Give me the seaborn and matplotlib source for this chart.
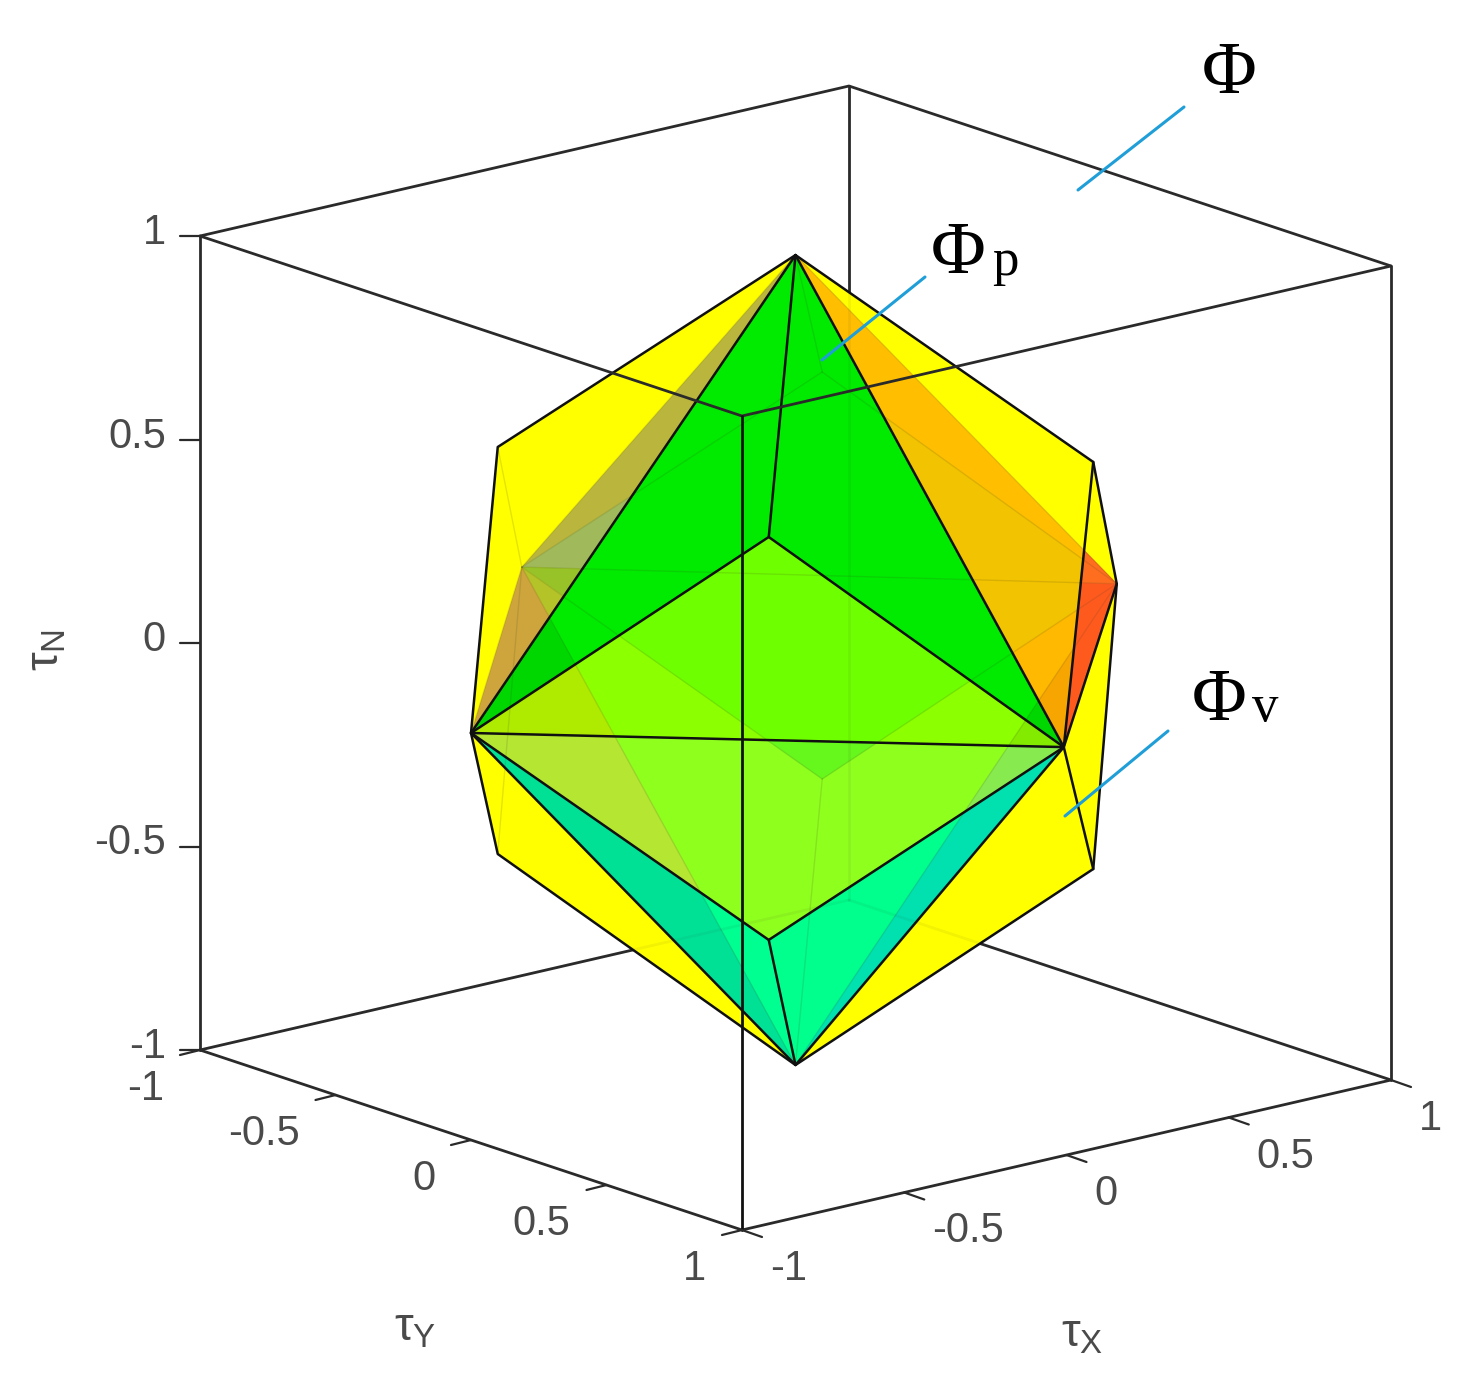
"""
plot.py
-------
Nested polytopes in (tau_X, tau_Y, tau_N) space, orthographic view.
"""

import numpy as np
import matplotlib
matplotlib.use("Agg")
import matplotlib.pyplot as plt
from matplotlib.patches import Polygon
import seaborn as sns

# octahedron corners
TOP = [0, 0, 0.99]
BOTTOM = [0, 0, -1]
LEFT = [-1, 0, 0]
FAR_X = [0.99, 0, 0]
RIGHT = [0, 0.99, 0]
FAR_Y = [0, -1.01, 0]

# inner polytope corners
FRONT_UP = [-0.5, 0.5, 0.5]
FRONT_DN = [-0.5, 0.5, -0.49]
BACK_UP = [0.5, -0.5, 0.5]
BACK_DN = [0.5, -0.5, -0.5]

# outer polytope corners
OUT_PP_UP = [0.5, 0.5, 0.5]
OUT_PP_DN = [0.5, 0.5, -0.5]
OUT_MM_UP = [-0.5, -0.5, 0.5]
OUT_MM_DN = [-0.5, -0.5, -0.5]

# where the outer edge down to RIGHT crosses the TOP - FAR_X edge in this view
SEAM = [0.345, 0.652, 0.345]

TICK_VALUES = [-1, -0.5, 0, 0.5, 1]
TICK_LABELS = ["-1", "-0.5", "0", "0.5", "1"]

# projection of the view, in pixels per unit
CENTER = np.array([795.5, 658.0])
EX = np.array([324.5, -75.0])
EY = np.array([271.0, 90.0])
EN = np.array([0.0, -407.0])

CUBE = "#2a2a2a"
BLUE = "#1f9ed8"
TICK_TEXT = "#4a4a4a"


def proj(p):
    return CENTER + p[0] * EX + p[1] * EY + p[2] * EN


def line(ax, pts, color="black", lw=2.0, alpha=1.0, z=3):
    xy = np.array([proj(p) for p in pts])
    sns.lineplot(x=xy[:, 0], y=xy[:, 1], ax=ax, sort=False, estimator=None, color=color,
                 linewidth=lw, alpha=alpha, zorder=z, legend=False)


def raw_line(ax, x, y):
    sns.lineplot(x=x, y=y, ax=ax, sort=False, estimator=None, color=BLUE,
                 linewidth=2.2, zorder=4, legend=False)


def region(ax, verts, color, clip=None):
    patch = Polygon([proj(v) for v in verts], closed=True, facecolor=color, edgecolor=color,
                    linewidth=0.3, zorder=1)
    ax.add_patch(patch)
    if clip is not None:
        patch.set_clip_path(Polygon([proj(v) for v in clip], closed=True, transform=ax.transData))


sns.set_theme(style="white")
plt.rcParams["font.family"] = ["Liberation Sans", "DejaVu Sans"]
plt.rcParams["mathtext.fontset"] = "custom"
plt.rcParams["mathtext.rm"] = "Liberation Sans"
plt.rcParams["mathtext.it"] = "Liberation Sans"

fig = plt.figure(figsize=(14.66, 13.91), dpi=100)
ax = fig.add_axes([0, 0, 1, 1])
ax.set_xlim(0, 1466)
ax.set_ylim(1391, 0)
ax.axis("off")

# box behind the solids
back_edges = [
    ([1, -1, 1], [1, -1, -1]),
    ([-1, -1, -1], [1, -1, -1]),
    ([1, 1, -1], [1, -1, -1]),
]
for a, b in back_edges:
    line(ax, [a, b], color=CUBE, z=0.5)
    line(ax, [a, b], color=CUBE, alpha=0.06, z=2)
line(ax, [[-1, -1, 1], [1, -1, 1], [1, 1, 1]], color=CUBE)

# outer solid
region(ax, [TOP, OUT_PP_UP, FAR_X, OUT_PP_DN, BOTTOM, OUT_MM_DN, LEFT, OUT_MM_UP], "#ffff00")

# see-through wedge on the left
tri_left = [TOP, FAR_Y, LEFT]
region(ax, [FAR_Y, TOP, BACK_UP], "#bab53c", tri_left)
region(ax, [FAR_Y, BACK_UP, FAR_X], "#a0b95a", tri_left)
region(ax, [FAR_Y, FAR_X, BACK_DN], "#98c328", tri_left)
region(ax, [FAR_Y, BACK_DN, BOTTOM], "#b4c428", tri_left)
region(ax, [FAR_Y, BOTTOM, LEFT], "#cda53c", tri_left)

# see-through wedge on the right, split by the outer edge
tri_right = [TOP, SEAM, RIGHT]
tri_red = [SEAM, FAR_X, RIGHT]
region(ax, tri_right, "#ffbe00")
region(ax, [FAR_X, BACK_UP, FAR_Y], "#f2c300", tri_right)
region(ax, [FAR_X, FAR_Y, BACK_DN], "#f2c300", tri_right)
region(ax, [FAR_X, BACK_DN, BOTTOM], "#ffb900", tri_right)
region(ax, [FAR_X, BOTTOM, RIGHT], "#f7a500", tri_right)
region(ax, tri_red, "#ff5a1e")
region(ax, [OUT_PP_UP, FAR_X, FAR_Y], "#ff6e1e", tri_red)

# inner solid, upper faces
face_a = [TOP, LEFT, FRONT_UP]
face_b = [TOP, FRONT_UP, RIGHT]
region(ax, face_a, "#00eb00")
region(ax, face_b, "#00eb00")
region(ax, [FAR_Y, BOTTOM, LEFT], "#00d700", face_a)
region(ax, [FAR_X, BOTTOM, RIGHT], "#00d700", face_b)

# inner solid, front rhombus
rh_up = [LEFT, FRONT_UP, RIGHT]
rh_dn = [LEFT, RIGHT, FRONT_DN]
region(ax, rh_up, "#8cff00")
region(ax, [FAR_Y, BACK_DN, FAR_X, TOP], "#6eff00", rh_up)
region(ax, [FAR_Y, BOTTOM, LEFT], "#afeb00", rh_up)
region(ax, [FAR_X, BOTTOM, RIGHT], "#82eb00", rh_up)
region(ax, rh_dn, "#8fff1e")
region(ax, [FAR_Y, BACK_DN, FAR_X, TOP], "#66f71c", rh_dn)
region(ax, [FAR_Y, BOTTOM, LEFT], "#b4e632", rh_dn)
region(ax, [FAR_X, BOTTOM, RIGHT], "#87eb50", rh_dn)

# inner solid, lower faces
face_c = [LEFT, FRONT_DN, BOTTOM]
face_d = [RIGHT, FRONT_DN, BOTTOM]
region(ax, face_c, "#00ff91")
region(ax, [FAR_Y, BOTTOM, LEFT], "#00e196", face_c)
region(ax, face_d, "#00ff8c")
region(ax, [FAR_X, BOTTOM, RIGHT], "#00e1af", face_d)

# edges seen through the faces
faint_edges = [
    (FAR_Y, TOP), (FAR_Y, BACK_UP), (FAR_Y, FAR_X), (FAR_Y, BACK_DN), (FAR_Y, BOTTOM),
    (FAR_Y, LEFT), (FAR_Y, OUT_MM_UP), (FAR_Y, OUT_MM_DN),
    (FAR_X, TOP), (FAR_X, BACK_UP), (FAR_X, BACK_DN), (FAR_X, BOTTOM),
    (BACK_UP, TOP), (BACK_DN, BOTTOM),
]
for a, b in faint_edges:
    line(ax, [a, b], color="#404020", lw=1.0, alpha=0.14, z=2)

# edges in front
black_edges = [
    [TOP, OUT_PP_UP, FAR_X, OUT_PP_DN, BOTTOM, OUT_MM_DN, LEFT, OUT_MM_UP, TOP],
    [OUT_PP_UP, RIGHT, OUT_PP_DN],
    [TOP, FRONT_UP, LEFT],
    [FRONT_UP, RIGHT],
    [LEFT, FRONT_DN, RIGHT],
    [FRONT_DN, BOTTOM],
    [TOP, LEFT, BOTTOM, RIGHT, TOP],
    [LEFT, RIGHT],
    [RIGHT, FAR_X],
]
for pts in black_edges:
    line(ax, pts, color="#101010", lw=1.8)

# box in front
line(ax, [[-1, -1, 1], [-1, 1, 1], [1, 1, 1]], color=CUBE)
line(ax, [[-1, -1, -1], [-1, 1, -1], [1, 1, -1]], color=CUBE)
line(ax, [[-1, -1, 1], [-1, -1, -1]], color=CUBE)
line(ax, [[-1, 1, 1], [-1, 1, -1]], color="#101010")
line(ax, [[1, 1, 1], [1, 1, -1]], color=CUBE)

# ticks and their labels
for val, lab in zip(TICK_VALUES, TICK_LABELS):
    x, y = proj([-1, -1, val])
    sns.lineplot(x=[x, x - 20], y=[y, y], ax=ax, sort=False, estimator=None, color=CUBE,
                 linewidth=1.6, zorder=3, legend=False)
    ax.text(166, y - 3, lab, ha="right", va="center", fontsize=30, color=TICK_TEXT)

    x, y = proj([-1, val, -1])
    sns.lineplot(x=[x, x - 20], y=[y, y + 5], ax=ax, sort=False, estimator=None, color=CUBE,
                 linewidth=1.6, zorder=3, legend=False)
    ax.text(x - 36, y + 39, lab, ha="right", va="center", fontsize=30, color=TICK_TEXT)

    x, y = proj([val, 1, -1])
    sns.lineplot(x=[x, x + 20], y=[y, y + 7], ax=ax, sort=False, estimator=None, color=CUBE,
                 linewidth=1.6, zorder=3, legend=False)
    ax.text(x + 28, y + 39, lab, ha="left", va="center", fontsize=30, color=TICK_TEXT)

ax.text(47, 650, r"$\tau_{\mathrm{N}}$", rotation=90, ha="center", va="center", fontsize=34, color=TICK_TEXT)
ax.text(415, 1328, r"$\tau_{\mathrm{Y}}$", ha="center", va="center", fontsize=34, color=TICK_TEXT)
ax.text(1082, 1334, r"$\tau_{\mathrm{X}}$", ha="center", va="center", fontsize=34, color=TICK_TEXT)

# call-outs
raw_line(ax, [1078, 1184], [190, 107])
raw_line(ax, [822, 925], [360, 277])
raw_line(ax, [1065, 1168], [816, 731])

serif = ["Liberation Serif", "DejaVu Serif"]
ax.text(1229, 75, "Φ", family=serif, fontsize=54, ha="center", va="center", color="black")
ax.text(958, 255, "Φ", family=serif, fontsize=54, ha="center", va="center", color="black")
ax.text(1005, 262, "p", family=serif, fontsize=38, ha="center", va="center", color="black")
ax.text(1219, 702, "Φ", family=serif, fontsize=54, ha="center", va="center", color="black")
ax.text(1265, 708, "v", family=serif, fontsize=38, ha="center", va="center", color="black")

fig.savefig("out.png", dpi=100)
plt.close(fig)
